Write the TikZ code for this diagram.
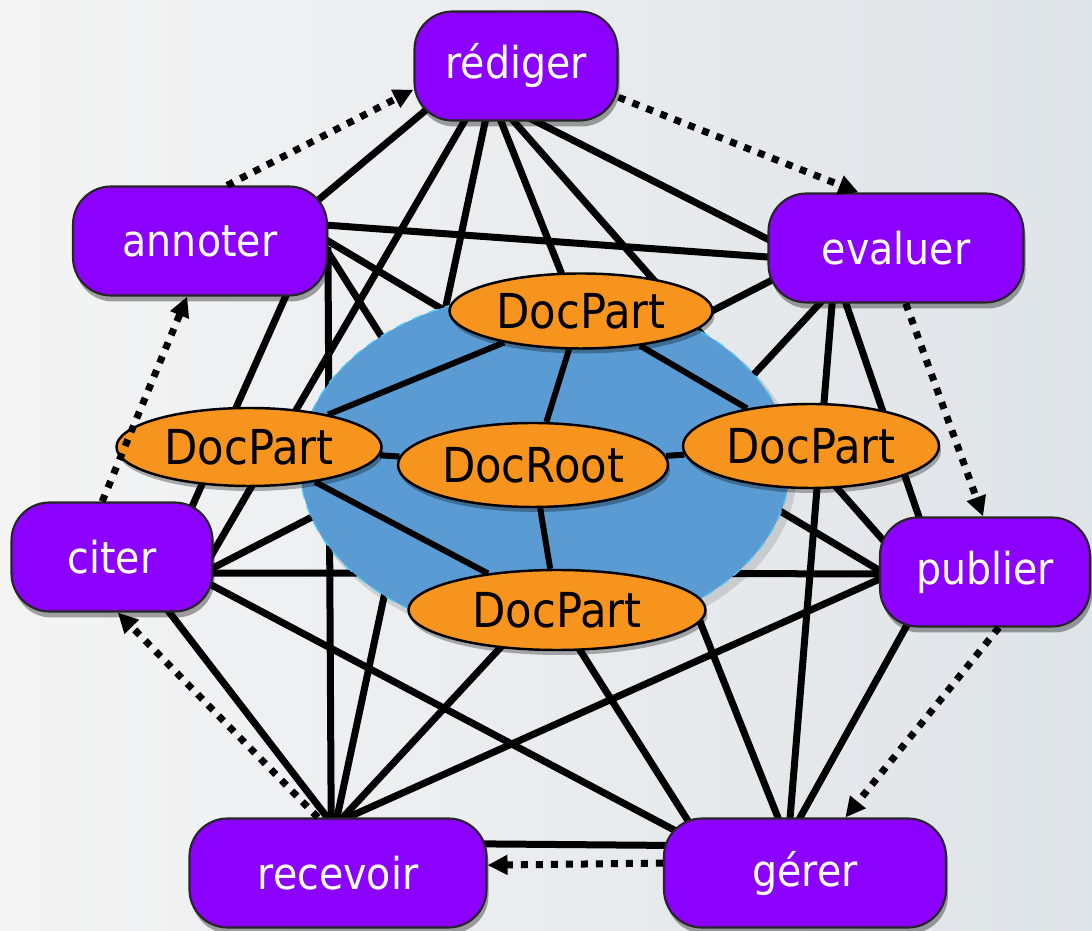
\documentclass[tikz,border=0pt]{standalone}
\usepackage{fontspec}
\newfontfamily\labelfont[FakeStretch=0.9]{DejaVu Sans}
\usepackage{tikz}
\usetikzlibrary{arrows.meta,shapes.geometric,shadows,backgrounds}

\definecolor{taskpurple}{RGB}{140,0,255}
\definecolor{partorange}{RGB}{247,148,30}
\definecolor{docblue}{RGB}{91,155,211}
\definecolor{paperlight}{RGB}{244,244,244}
\definecolor{paperblue}{RGB}{223,228,232}

\begin{document}
\begin{tikzpicture}[
    task/.style={draw=black!85, line width=0.6pt, fill=taskpurple, rounded corners=0.38cm,
                 minimum height=1.09cm, inner sep=0pt, text=white,
                 font=\labelfont\fontsize{12.5}{15}\selectfont,
                 drop shadow={fill=black, opacity=0.35, shadow xshift=0.02cm, shadow yshift=-0.06cm}},
    part/.style={ellipse, draw=black, line width=0.7pt, fill=partorange, inner sep=0pt,
                 font=\labelfont\fontsize{13.7}{16}\selectfont,
                 drop shadow={fill=black, opacity=0.3, shadow xshift=0.02cm, shadow yshift=-0.05cm}},
    link/.style={line width=0.07cm, shorten <=-6pt, shorten >=-6pt},
    inner/.style={line width=0.06cm},
    flow/.style={line width=0.07cm, dash pattern=on 0.07cm off 0.08cm,
                 -{Triangle[length=0.2cm,width=0.19cm]}},
  ]
  \useasboundingbox (0,0) rectangle (10.92,9.30);

  \node[task, minimum width=2.03cm] (rediger)  at (5.16,8.64) {rédiger};
  \node[task, minimum width=2.54cm] (annoter)  at (2.00,6.89) {annoter};
  \node[task, minimum width=2.55cm] (evaluer)  at (8.96,6.82) {evaluer};
  \node[task, minimum width=2.01cm] (citer)    at (1.12,3.73) {citer};
  \node[task, minimum width=2.10cm] (publier)  at (9.85,3.58) {publier};
  \node[task, minimum width=2.97cm] (recevoir) at (3.38,0.57) {recevoir};
  \node[task, minimum width=2.82cm] (gerer)    at (8.05,0.57) {gérer};

  \node[part, minimum width=2.63cm, minimum height=0.75cm] (dtop)    at (5.81,6.19) {DocPart};
  \node[part, minimum width=2.65cm, minimum height=0.78cm] (dleft)   at (2.49,4.83) {DocPart};
  \node[part, minimum width=2.70cm, minimum height=0.84cm] (droot)   at (5.33,4.65) {DocRoot};
  \node[part, minimum width=2.56cm, minimum height=0.84cm] (dright)  at (8.11,4.84) {DocPart};
  \node[part, minimum width=2.97cm, minimum height=0.80cm] (dbottom) at (5.57,3.20) {DocPart};

  % every task is linked to every other one, under the document
  \begin{scope}[on background layer]
    \shade[left color=paperlight, right color=paperblue] (0,0) rectangle (10.92,9.30);

    \draw[link] (rediger.208) -- (annoter.21);
    \draw[link] (rediger.227) -- (citer.3);
    \draw[link] (rediger.241) -- (recevoir.91);
    \draw[link] (rediger.255) -- (gerer.116);
    \draw[link] (rediger.268) -- (publier.161);
    \draw[link] (rediger.290) -- (evaluer.176);
    \draw[link] (annoter.7)   -- (evaluer.184);
    \draw[link] (annoter.0)   -- (publier.179);
    \draw[link] (annoter.-5)  -- (gerer.155);
    \draw[link] (annoter.-12) -- (recevoir.97);
    \draw[link] (annoter.-33) -- (citer.34);
    \draw[link] (evaluer.195) -- (citer.-6);
    \draw[link] (evaluer.216) -- (recevoir.85);
    \draw[link] (evaluer.221) -- (gerer.105);
    \draw[link] (evaluer.228) -- (publier.140);
    \draw[link] (citer.-9)    -- (publier.181);
    \draw[link] (citer.-16)   -- (gerer.161);
    \draw[link] (citer.-44)   -- (recevoir.101);
    \draw[link] (publier.184) -- (recevoir.80);
    \draw[link] (publier.215) -- (gerer.95);
    \draw[link] (recevoir.11) -- (gerer.169);

    \fill[black, opacity=0.12] (5.50,4.59) ellipse [x radius=2.47cm, y radius=1.75cm];
    \filldraw[fill=docblue, draw=cyan!70!white, line width=0.4pt, densely dashed]
      (5.45,4.65) ellipse [x radius=2.45cm, y radius=1.73cm];
  \end{scope}

  \draw[inner] (dtop) -- (dleft);
  \draw[inner] (dtop) -- (droot);
  \draw[inner] (dtop) -- (dright);
  \draw[inner] (dleft) -- (droot);
  \draw[inner] (droot) -- (dright);
  \draw[inner] (droot) -- (dbottom);
  \draw[inner] (dleft) -- (dbottom);

  \draw[flow] (rediger.-17)  -- (evaluer.124);
  \draw[flow] (evaluer.280)  -- (publier.92);
  \draw[flow] (publier.284)  -- (gerer.54);
  \draw[flow] (gerer.176)    -- (recevoir.3);
  \draw[flow] (recevoir.110) -- (citer.276);
  \draw[flow] (citer.100)    -- (annoter.257);
  \draw[flow] (annoter.64)   -- (rediger.193);
\end{tikzpicture}
\end{document}
